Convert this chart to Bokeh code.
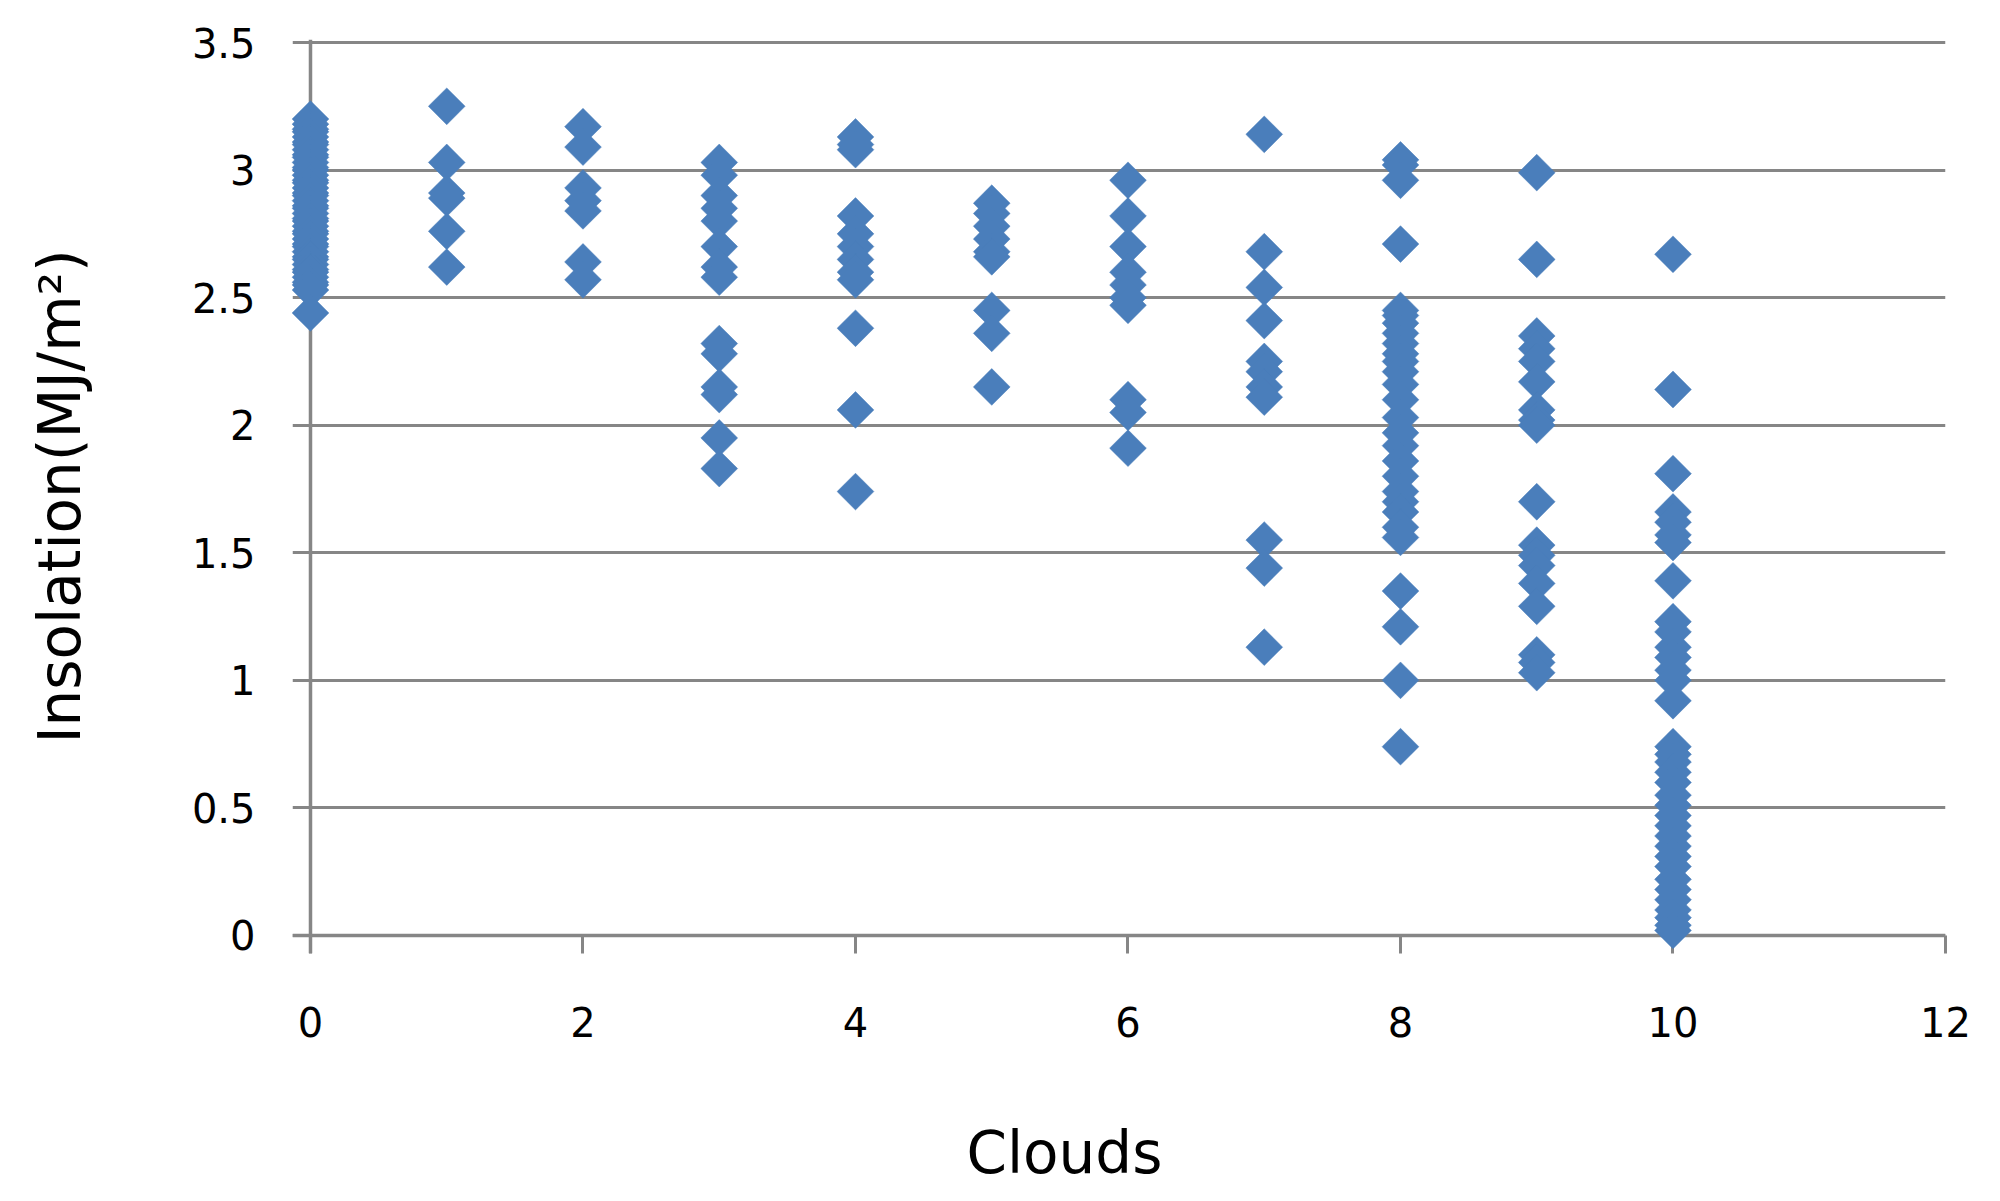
import math
from bokeh.plotting import figure
from bokeh.models import Range1d, ColumnDataSource, Span, FixedTicker, Title
from bokeh.embed import file_html
from bokeh.resources import INLINE

# ---- data: insolation values (MJ/m2) observed for each cloud amount ----
ins_c0 = [3.20, 3.18, 3.16, 3.15, 3.13, 3.11, 3.10, 3.08, 3.06, 3.05, 3.03, 3.01,
          3.00, 2.98, 2.96, 2.95, 2.93, 2.91, 2.90, 2.88, 2.86, 2.85, 2.83, 2.81,
          2.80, 2.78, 2.76, 2.75, 2.73, 2.71, 2.70, 2.68, 2.66, 2.65, 2.63, 2.61,
          2.60, 2.58, 2.56, 2.55, 2.53, 2.44]
ins_c1 = [3.25, 3.03, 2.91, 2.89, 2.76, 2.62]
ins_c2 = [3.17, 3.09, 2.93, 2.88, 2.84, 2.64, 2.57]
ins_c3 = [3.03, 2.98, 2.90, 2.85, 2.80, 2.70, 2.62, 2.58, 2.32, 2.28, 2.15, 2.12,
          1.95, 1.83]
ins_c4 = [3.13, 3.10, 3.08, 2.82, 2.75, 2.70, 2.65, 2.60, 2.57, 2.38, 2.06, 1.74]
ins_c5 = [2.87, 2.83, 2.78, 2.73, 2.68, 2.66, 2.45, 2.36, 2.15]
ins_c6 = [2.96, 2.82, 2.70, 2.60, 2.55, 2.50, 2.47, 2.10, 2.05, 1.91]
ins_c7 = [3.14, 2.68, 2.54, 2.41, 2.25, 2.21, 2.15, 2.11, 1.55, 1.44, 1.13]
ins_c8 = [3.04, 3.02, 2.96, 2.71, 2.45, 2.43, 2.40, 2.36, 2.32, 2.28, 2.25, 2.21,
          2.16, 2.10, 2.03, 1.97, 1.92, 1.86, 1.80, 1.74, 1.70, 1.66, 1.60, 1.56,
          1.35, 1.21, 1.00, 0.74]
ins_c9 = [2.99, 2.65, 2.35, 2.30, 2.25, 2.17, 2.06, 2.02, 2.00, 1.70, 1.53, 1.49,
          1.45, 1.38, 1.29, 1.10, 1.07, 1.03]
ins_c10 = [2.67, 2.14, 1.81, 1.66, 1.62, 1.57, 1.54, 1.39, 1.23, 1.19, 1.13, 1.09,
           1.04, 1.00, 0.92, 0.74, 0.71, 0.68, 0.64, 0.60, 0.55, 0.51, 0.47, 0.43,
           0.39, 0.35, 0.31, 0.27, 0.22, 0.18, 0.14, 0.10, 0.07, 0.04, 0.02]

cloud_levels = [0, 1, 2, 3, 4, 5, 6, 7, 8, 9, 10]
series = [ins_c0, ins_c1, ins_c2, ins_c3, ins_c4, ins_c5, ins_c6, ins_c7,
          ins_c8, ins_c9, ins_c10]

x_ticks = [0, 2, 4, 6, 8, 10, 12]
x_tick_labels = ["0", "2", "4", "6", "8", "10", "12"]
y_ticks = [0, 0.5, 1, 1.5, 2, 2.5, 3, 3.5]
y_tick_labels = ["0", "0.5", "1", "1.5", "2", "2.5", "3", "3.5"]

x_title = "Clouds"
y_title = "Insolation(MJ/m\u00b2)"

xs, ys = [], []
for c, vals in zip(cloud_levels, series):
    xs.extend([c] * len(vals))
    ys.extend(vals)
src = ColumnDataSource(data=dict(x=xs, y=ys))

# ---- figure ----
X0, X1 = -0.132, 12
Y0, Y1 = -0.0706, 3.5118
GRAY = "#868686"
BLUE = "#4A7EBB"
FONT = "DejaVu Sans"

p = figure(frame_width=1653, frame_height=914,
           x_range=Range1d(X0, X1), y_range=Range1d(Y0, Y1),
           output_backend="svg", toolbar_location=None,
           min_border_left=292, min_border_right=47,
           min_border_top=39, min_border_bottom=246)
p.outline_line_color = None
p.background_fill_color = "white"
p.border_fill_color = "white"

p.xgrid.visible = False
p.ygrid.ticker = FixedTicker(ticks=y_ticks)
p.ygrid.grid_line_color = GRAY
p.ygrid.grid_line_width = 3

xa = p.xaxis[0]
ya = p.yaxis[0]
for ax, ticks, labels in ((xa, x_ticks, x_tick_labels), (ya, y_ticks, y_tick_labels)):
    ax.ticker = FixedTicker(ticks=ticks, minor_ticks=[])
    ax.major_label_overrides = dict(zip(ticks, labels))
    ax.axis_line_color = None
    ax.minor_tick_line_color = None
    ax.major_label_text_font = FONT
    ax.major_label_text_font_size = "40px"
    ax.major_label_text_color = "black"

# x axis: ticks drop from y = 0 to the frame bottom
xa.major_tick_line_color = GRAY
xa.major_tick_line_width = 3
xa.major_tick_in = 18
xa.major_tick_out = 0
xa.major_label_standoff = 53

# y axis: the grid lines provide the tick marks
ya.major_tick_line_color = None
ya.major_tick_in = 0
ya.major_tick_out = 0
ya.major_label_standoff = 37
ya.axis_label = y_title
ya.axis_label_standoff = 95
ya.axis_label_text_font = FONT
ya.axis_label_text_font_size = "58px"
ya.axis_label_text_font_style = "normal"
ya.axis_label_text_color = "black"

# x axis title
p.add_layout(Title(text=x_title, align="left", offset=674, standoff=154,
                   text_font=FONT, text_font_size="58px",
                   text_font_style="normal", text_color="black"), "below")

# axis lines through the origin
p.add_layout(Span(location=0, dimension="height", line_color=GRAY, line_width=3.5))
p.add_layout(Span(location=0, dimension="width", line_color=GRAY, line_width=3.5))

p.scatter(x="x", y="y", source=src, marker="square", angle=math.pi / 4,
          size=26, fill_color=BLUE, line_color=BLUE, line_width=0.5,
          level="overlay")

open("out.html", "w").write(file_html(p, INLINE))
